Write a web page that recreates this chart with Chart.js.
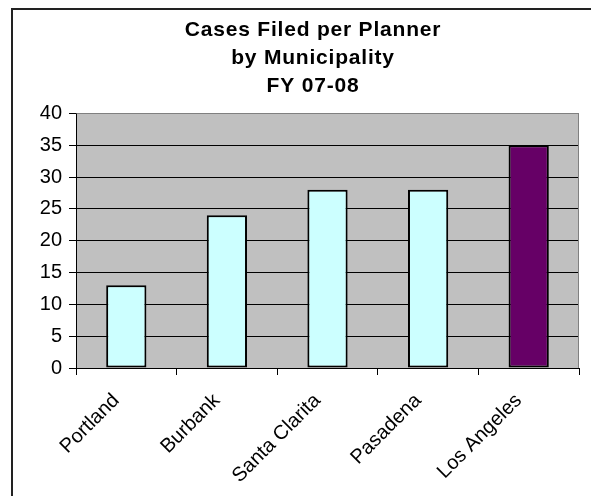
<!DOCTYPE html>
<html>
<head>
<meta charset="utf-8">
<script src="https://cdn.jsdelivr.net/npm/chart.js@4/dist/chart.umd.min.js"></script>
<style>
  html, body { margin: 0; padding: 0; background: #fff; overflow: hidden; width: 591px; height: 496px; }
  #frame { position: absolute; left: 11px; top: 8px; width: 600px; height: 500px; border: 2px solid #222; background: #fff; }
  #frame canvas { display: block; }
</style>
</head>
<body>
<div id="frame"><canvas id="c" width="600" height="500"></canvas></div>
<script>
// Cases filed per planner, FY 07-08
const titleLines = ['Cases Filed per Planner', 'by Municipality', 'FY 07-08'];
const municipalities = ['Portland', 'Burbank', 'Santa Clarita', 'Pasadena', 'Los Angeles'];
const casesPerPlanner = [13, 24, 28, 28, 35];
const yTicks = { min: 0, max: 40, step: 5 };
const highlighted = 'Los Angeles';

const FONT = "'Liberation Sans', Arial, sans-serif";

// grey plot background plus grey top/right edge of the plot area
const plotArea = {
  id: 'plotArea',
  afterInit(chart) {
    // slightly widened letter spacing for the title only
    const tb = chart.titleBlock;
    if (tb && !tb._spaced) {
      const orig = tb.draw.bind(tb);
      tb.draw = function (...args) {
        const ctx = chart.ctx;
        const prev = ctx.letterSpacing;
        ctx.letterSpacing = '0.8px';
        orig(...args);
        ctx.letterSpacing = prev || '0px';
      };
      tb._spaced = true;
    }
  },
  beforeDraw(chart) {
    const { ctx, chartArea: a } = chart;
    ctx.save();
    ctx.fillStyle = '#c0c0c0';
    ctx.fillRect(a.left, a.top, a.right - a.left, a.bottom - a.top);
    ctx.restore();
  },
  afterDatasetsDraw(chart) {
    const { ctx, chartArea: a } = chart;
    ctx.save();
    ctx.strokeStyle = '#808080';
    ctx.lineWidth = 1;
    ctx.beginPath();
    ctx.moveTo(Math.round(a.left) + 0.5, Math.round(a.top) + 0.5);
    ctx.lineTo(Math.round(a.right) - 0.5, Math.round(a.top) + 0.5);
    ctx.lineTo(Math.round(a.right) - 0.5, Math.round(a.bottom));
    ctx.stroke();
    ctx.restore();
  }
};

new Chart(document.getElementById('c'), {
  type: 'bar',
  data: {
    labels: municipalities,
    datasets: [{
      data: casesPerPlanner,
      backgroundColor: municipalities.map(m => m === highlighted ? '#660066' : '#ccffff'),
      borderColor: '#000',
      borderWidth: 2,
      borderSkipped: false,
      barPercentage: 0.4,
      categoryPercentage: 1.0
    }]
  },
  options: {
    responsive: false,
    animation: false,
    layout: { padding: 0 },
    plugins: {
      legend: { display: false },
      tooltip: { enabled: false },
      title: {
        display: true,
        text: titleLines,
        color: '#000',
        font: { family: FONT, size: 21, weight: 'bold', lineHeight: 1.34 },
        padding: { top: 6, bottom: 13 }
      }
    },
    scales: {
      x: {
        grid: {
          offset: true,
          drawOnChartArea: false,
          drawTicks: true,
          tickLength: 7,
          tickColor: '#000'
        },
        border: { display: true, color: '#000', width: 1 },
        ticks: {
          color: '#000',
          font: { family: FONT, size: 20 },
          minRotation: 45,
          maxRotation: 45,
          autoSkip: false,
          padding: 14,
          labelOffset: -10
        },
        afterFit(s) { s.height = 142; }
      },
      y: {
        min: yTicks.min,
        max: yTicks.max,
        grid: {
          color: ctx => ctx.tick && ctx.tick.value === yTicks.max ? '#808080' : '#000',
          lineWidth: 1,
          drawTicks: true,
          tickLength: 7,
          tickColor: '#000'
        },
        border: { display: true, color: '#000', width: 1 },
        ticks: {
          stepSize: yTicks.step,
          color: '#000',
          font: { family: FONT, size: 20 },
          padding: 7
        },
        afterFit(s) { s.width = 63; }
      },
      yRight: {
        position: 'right',
        display: true,
        grid: { display: false, drawTicks: false },
        border: { display: false },
        ticks: { display: false },
        afterFit(s) { s.width = 34; }
      }
    }
  },
  plugins: [plotArea]
});
</script>
</body>
</html>
